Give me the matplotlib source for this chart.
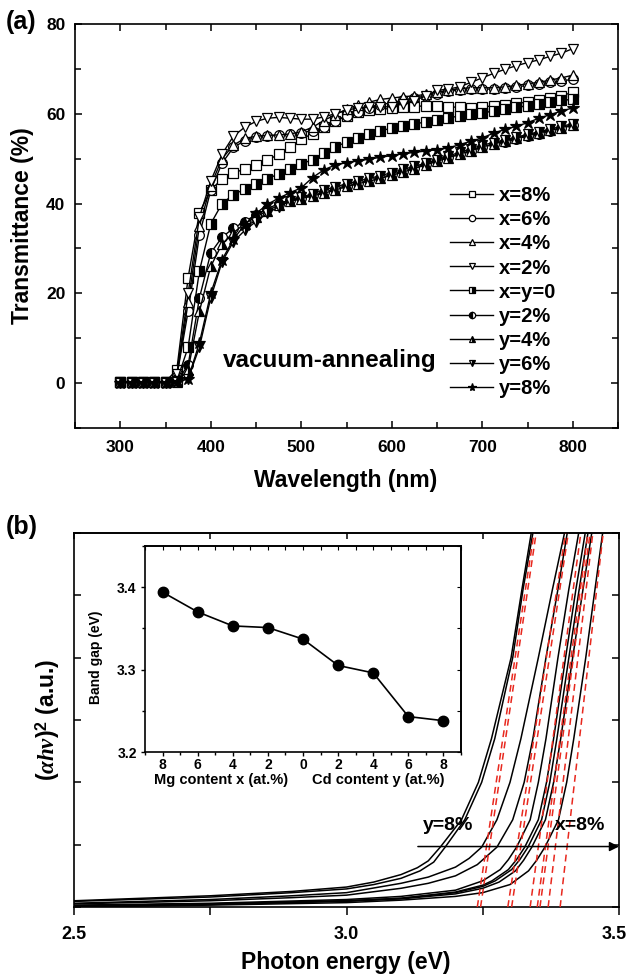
import matplotlib
matplotlib.use('Agg')
import matplotlib.pyplot as plt
from matplotlib.ticker import MultipleLocator, FixedLocator
from matplotlib.transforms import ScaledTranslation

plt.rcParams['font.family'] = ['Liberation Sans', 'DejaVu Sans']
plt.rcParams['font.weight'] = 'bold'
plt.rcParams['axes.labelweight'] = 'bold'
plt.rcParams['mathtext.fontset'] = 'custom'
plt.rcParams['mathtext.it'] = 'Liberation Serif:italic:bold'
plt.rcParams['mathtext.rm'] = 'Liberation Sans:bold'
plt.rcParams['mathtext.bf'] = 'Liberation Sans:bold'
plt.rcParams['axes.linewidth'] = 1.2

# ---------------- panel (a): transmittance spectra ----------------
wavelength = [300, 312.5, 325, 337.5, 350, 362.5, 375, 387.5, 400, 412.5, 425,
              437.5, 450, 462.5, 475, 487.5, 500, 512.5, 525, 537.5, 550, 562.5,
              575, 587.5, 600, 612.5, 625, 637.5, 650, 662.5, 675, 687.5, 700,
              712.5, 725, 737.5, 750, 762.5, 775, 787.5, 800]

t_x8 = [0.3, 0.3, 0.3, 0.3, 0.3, 3.0, 23.5, 38, 43, 45.5, 46.8, 47.7, 48.5, 49.6,
        51, 52.5, 54.3, 55.6, 57, 58.5, 59.5, 60.3, 60.8, 61, 61.2, 61.4, 61.6,
        61.8, 61.8, 61.6, 61.4, 61.3, 61.5, 61.8, 62, 62.3, 62.6, 63, 63.5, 64, 64.8]
t_x6 = [0.3, 0.3, 0.3, 0.3, 0.3, 1.5, 16, 33, 43, 49, 52.5, 54, 54.8, 55, 55.2,
        55.5, 55.8, 56.2, 57, 58.3, 59.5, 60.5, 61.2, 62, 62.5, 63, 63.5, 64,
        64.5, 65, 65.3, 65.5, 65.5, 65.5, 65.7, 66, 66.3, 66.7, 67, 67.3, 67.7]
t_x4 = [0.3, 0.3, 0.3, 0.3, 0.3, 1.5, 18, 35, 44, 50, 53, 54.5, 55, 55.2, 55.3,
        55.5, 56, 57, 58.5, 59.8, 61, 62, 62.6, 63.2, 63.5, 63.8, 64, 64.3, 64.8,
        65.2, 65.6, 65.8, 65.8, 65.8, 66, 66.3, 66.7, 67, 67.5, 68, 68.6]
t_x2 = [0.3, 0.3, 0.3, 0.3, 0.3, 2, 20, 37, 45, 51, 55, 57, 58.3, 59, 59.2, 59,
        58.8, 58.8, 59.3, 60, 60.8, 61.3, 61.6, 61.5, 61.6, 62.2, 62.9, 64, 65.2,
        65.5, 66, 67, 68, 69, 69.9, 70.7, 71.4, 72, 72.8, 73.5, 74.5]
t_xy0 = [0.2, 0.2, 0.2, 0.2, 0.2, 0.5, 8, 25, 35.5, 40, 42, 43.2, 44.3, 45.5,
         46.6, 47.8, 48.8, 49.8, 51.3, 52.6, 53.7, 54.7, 55.4, 56.2, 56.8, 57.2,
         57.7, 58.2, 58.7, 59.1, 59.5, 59.9, 60.2, 60.6, 61, 61.4, 61.8, 62.2,
         62.6, 63, 63.2]
t_y2 = [0.2, 0.2, 0.2, 0.2, 0.2, 0.3, 4, 19, 29, 32.5, 34.5, 36, 37.5, 38.8, 40,
        40.8, 41.3, 41.8, 42.5, 43.3, 44, 44.6, 45.2, 45.8, 46.5, 47.2, 48, 48.8,
        49.6, 50.3, 51, 51.8, 52.5, 53.2, 53.8, 54.4, 55, 55.6, 56.2, 56.8, 57.4]
t_y4 = [0.2, 0.2, 0.2, 0.2, 0.2, 0.3, 3, 16, 26, 31, 33.5, 35.5, 37, 38.4, 39.6,
        40.5, 41.1, 41.7, 42.3, 43, 43.8, 44.4, 45, 45.6, 46.3, 47, 47.8, 48.6,
        49.4, 50.2, 51, 51.8, 52.6, 53.3, 54, 54.6, 55.2, 55.8, 56.3, 56.9, 57.6]
t_y6 = [0.1, 0.1, 0.1, 0.1, 0.1, 0.2, 1, 8, 19, 27, 31.5, 34, 36, 37.8, 39.3,
        40.5, 41.4, 42.2, 43, 43.7, 44.4, 45, 45.6, 46.2, 46.9, 47.6, 48.3, 49,
        49.8, 50.6, 51.4, 52.2, 53, 53.6, 54.2, 54.8, 55.4, 56, 56.6, 57.2, 57.8]
t_y8 = [0.1, 0.1, 0.1, 0.1, 0.1, 0.2, 1, 9, 20, 27.5, 32, 35.3, 37.8, 39.8, 41.2,
        42.4, 43.5, 45.8, 47.5, 48.6, 49.1, 49.5, 49.9, 50.3, 50.7, 51.1, 51.4,
        51.7, 52, 52.4, 53.1, 53.9, 54.6, 55.7, 56.5, 57.2, 58, 59, 59.8, 60.6, 61.3]

labels_a = ['x=8%', 'x=6%', 'x=4%', 'x=2%', 'x=y=0', 'y=2%', 'y=4%', 'y=6%', 'y=8%']

# ---------------- panel (b): Tauc plot, (alpha h nu)^2 ----------------
e_y8 = [2.50, 2.75, 2.90, 3.00, 3.05, 3.10, 3.13, 3.15, 3.172, 3.211, 3.242, 3.266, 3.302, 3.322, 3.339, 3.344]
a_y8 = [0.10, 0.18, 0.25, 0.32, 0.40, 0.52, 0.63, 0.74, 0.96, 1.40, 2.00, 2.70, 4.00, 5.10, 6.00, 6.30]
e_y6 = [2.50, 2.75, 2.90, 3.00, 3.05, 3.10, 3.135, 3.16, 3.181, 3.217, 3.248, 3.272, 3.305, 3.324, 3.342, 3.347]
a_y6 = [0.09, 0.16, 0.23, 0.29, 0.36, 0.46, 0.58, 0.72, 0.96, 1.40, 2.00, 2.70, 4.00, 5.10, 6.00, 6.30]
e_y4 = [2.50, 2.75, 2.90, 3.00, 3.10, 3.15, 3.20, 3.225, 3.248, 3.276, 3.300, 3.320, 3.352, 3.378, 3.400, 3.406]
a_y4 = [0.06, 0.12, 0.18, 0.23, 0.38, 0.48, 0.64, 0.78, 0.96, 1.40, 2.00, 2.70, 4.00, 5.10, 6.00, 6.30]
e_y2 = [2.50, 2.75, 2.90, 3.00, 3.10, 3.15, 3.20, 3.24, 3.276, 3.305, 3.326, 3.342, 3.366, 3.388, 3.405, 3.411]
a_y2 = [0.05, 0.10, 0.15, 0.19, 0.30, 0.38, 0.50, 0.68, 0.96, 1.40, 2.00, 2.70, 4.00, 5.10, 6.00, 6.30]
e_xy0 = [2.50, 2.75, 3.00, 3.10, 3.20, 3.25, 3.282, 3.297, 3.312, 3.337, 3.352, 3.366, 3.388, 3.408, 3.426, 3.432]
a_xy0 = [0.03, 0.06, 0.12, 0.17, 0.27, 0.42, 0.60, 0.76, 0.96, 1.40, 2.00, 2.70, 4.00, 5.10, 6.00, 6.30]
e_x2 = [2.50, 2.75, 3.00, 3.10, 3.20, 3.25, 3.267, 3.297, 3.312, 3.327, 3.352, 3.367, 3.380, 3.402, 3.421, 3.438, 3.444]
a_x2 = [0.02, 0.05, 0.10, 0.14, 0.24, 0.35, 0.42, 0.60, 0.76, 0.96, 1.40, 2.00, 2.70, 4.00, 5.10, 6.00, 6.30]
e_x4 = [2.50, 2.75, 3.00, 3.10, 3.20, 3.25, 3.273, 3.303, 3.318, 3.333, 3.358, 3.373, 3.386, 3.408, 3.427, 3.443, 3.449]
a_x4 = [0.02, 0.05, 0.10, 0.14, 0.23, 0.33, 0.42, 0.60, 0.76, 0.96, 1.40, 2.00, 2.70, 4.00, 5.10, 6.00, 6.30]
e_x6 = [2.50, 2.75, 3.00, 3.10, 3.20, 3.25, 3.28, 3.31, 3.325, 3.340, 3.365, 3.380, 3.393, 3.415, 3.434, 3.450, 3.456]
a_x6 = [0.01, 0.04, 0.09, 0.13, 0.21, 0.30, 0.40, 0.58, 0.75, 0.96, 1.40, 2.00, 2.70, 4.00, 5.10, 6.00, 6.30]
e_x8 = [2.50, 2.75, 3.00, 3.10, 3.20, 3.25, 3.30, 3.334, 3.349, 3.364, 3.389, 3.404, 3.417, 3.439, 3.456, 3.470, 3.476]
a_x8 = [0.00, 0.03, 0.07, 0.11, 0.17, 0.23, 0.36, 0.58, 0.75, 0.96, 1.40, 2.00, 2.70, 4.00, 5.10, 6.00, 6.30]

# linear fits: energy where each dashed line meets the bottom and the top
fit_lo = [3.240, 3.246, 3.296, 3.303, 3.337, 3.350, 3.355, 3.370, 3.392]
fit_hi = [3.344, 3.348, 3.402, 3.407, 3.430, 3.443, 3.447, 3.452, 3.471]

# inset: band gap vs content
content_pos = [-8, -6, -4, -2, 0, 2, 4, 6, 8]
content_labels = ['8', '6', '4', '2', '0', '2', '4', '6', '8']
band_gap = [3.394, 3.370, 3.353, 3.351, 3.337, 3.305, 3.296, 3.243, 3.238]

W, H = 628, 977
fig = plt.figure(figsize=(W / 100, H / 100), dpi=100)


def box(l, t, r, b):
    return [l / W, 1 - b / H, (r - l) / W, (b - t) / H]


# ---- (a) ----
ax = fig.add_axes(box(75, 24, 618, 428))
series = [t_x8, t_x6, t_x4, t_x2, t_xy0, t_y2, t_y4, t_y6, t_y8]
markers = ['s', 'o', '^', 'v', 's', 'o', '^', 'v', '*']
fills = ['open', 'open', 'open', 'open', 'right', 'left', 'right', 'right', 'full']
for vals, m, f, lab in zip(series, markers, fills, labels_a):
    kw = dict(color='black', lw=1.0, marker=m, mec='black', mew=0.9,
              ms=9 if m == '*' else 7, label=lab)
    if f == 'open':
        kw.update(mfc='white')
    elif f == 'full':
        kw.update(mfc='black')
    else:
        kw.update(mfc='black', mfcalt='white', fillstyle=f)
    ax.plot(wavelength, vals, **kw)

ax.set_xlim(250, 850)
ax.set_ylim(-10, 80)
ax.xaxis.set_major_locator(MultipleLocator(100))
ax.xaxis.set_minor_locator(MultipleLocator(50))
ax.yaxis.set_major_locator(MultipleLocator(20))
ax.yaxis.set_minor_locator(MultipleLocator(10))
ax.tick_params(which='both', direction='in', top=True, right=True, width=1.1)
ax.tick_params(which='major', length=5, labelsize=12.5)
ax.tick_params(which='minor', length=4)
ax.tick_params(axis='x', pad=9)
ax.tick_params(axis='y', pad=7)

ax.text(413, 5, 'vacuum-annealing', fontsize=17.5, ha='left', va='center')
ax.legend(loc='upper left', bbox_to_anchor=(0.6906, 0.598), frameon=False,
          fontsize=14.5, handlelength=2.14, handletextpad=0.3, labelspacing=0.25,
          borderpad=0, borderaxespad=0, markerscale=0.65)

fig.text(23 / W, 1 - 226 / H, 'Transmittance (%)', rotation=90, ha='center',
         va='center', fontsize=16.5)
fig.text(346 / W, 1 - 480 / H, 'Wavelength (nm)', ha='center', va='center',
         fontsize=16.5)
fig.text(6 / W, 1 - 22 / H, '(a)', ha='left', va='center', fontsize=18)

# ---- (b) ----
bx = fig.add_axes(box(74, 533, 619, 907))
curves = [(e_y8, a_y8), (e_y6, a_y6), (e_y4, a_y4), (e_y2, a_y2), (e_xy0, a_xy0),
          (e_x2, a_x2), (e_x4, a_x4), (e_x6, a_x6), (e_x8, a_x8)]
for e, a in curves:
    bx.plot(e, a, color='black', lw=1.1, solid_joinstyle='round')
for lo, hi in zip(fit_lo, fit_hi):
    bx.plot([lo, hi], [0, 6], color='#e8281e', lw=1.1, dashes=(4.5, 3), zorder=3)

bx.annotate('', xy=(3.5, 0.97), xytext=(3.131, 0.97), annotation_clip=False,
            arrowprops=dict(arrowstyle='-|>', color='black', lw=1.1,
                            mutation_scale=14, shrinkA=0, shrinkB=0))
bx.text(3.14, 1.30, 'y=8%', fontsize=14, ha='left', va='center')
bx.text(3.383, 1.30, 'x=8%', fontsize=14, ha='left', va='center')

bx.set_xlim(2.5, 3.5)
bx.set_ylim(0, 6)
bx.set_xticks([2.5, 3.0, 3.5])
bx.set_xticklabels(['2.5', '3.0', '3.5'])
bx.xaxis.set_minor_locator(MultipleLocator(0.25))
bx.yaxis.set_major_locator(MultipleLocator(1))
bx.tick_params(axis='x', which='both', direction='out', length=6, width=1.1,
               labelsize=13, pad=8)
bx.tick_params(axis='y', which='both', direction='in', left=True, right=True,
               labelleft=False, length=5, width=1.1)
last = bx.get_xticklabels()[-1]
last.set_transform(last.get_transform() + ScaledTranslation(-0.05, 0, fig.dpi_scale_trans))
top = bx.secondary_xaxis('top')
top.xaxis.set_major_locator(MultipleLocator(0.25))
top.tick_params(direction='in', length=4, width=1.1, labeltop=False)

fig.text(346 / W, 1 - 962 / H, 'Photon energy (eV)', ha='center', va='center',
         fontsize=16.5)
fig.text(48 / W, 1 - 720 / H, r'$(\alpha h\nu)^{2}$ (a.u.)', rotation=90,
         ha='center', va='center', fontsize=16.5)
fig.text(6 / W, 1 - 527 / H, '(b)', ha='left', va='center', fontsize=18)

# ---- inset ----
ix = fig.add_axes(box(145, 546, 461, 752))
ix.plot(content_pos, band_gap, color='black', lw=1.2, marker='o', ms=7.5)
ix.set_xlim(-9, 9)
ix.set_ylim(3.2, 3.45)
ix.xaxis.set_major_locator(FixedLocator(content_pos))
ix.set_xticklabels(content_labels)
ix.xaxis.set_minor_locator(MultipleLocator(1))
ix.set_yticks([3.2, 3.3, 3.4])
ix.yaxis.set_minor_locator(MultipleLocator(0.05))
ix.tick_params(which='both', direction='out', width=1.0, labelsize=10)
ix.tick_params(which='major', length=3, pad=1)
ix.tick_params(which='minor', length=2.5)
ix.tick_params(axis='y', pad=3)
itop = ix.secondary_xaxis('top')
itop.xaxis.set_major_locator(MultipleLocator(1))
itop.tick_params(direction='in', length=3, labeltop=False)
iright = ix.secondary_yaxis('right')
iright.yaxis.set_major_locator(MultipleLocator(0.05))
iright.tick_params(direction='in', length=3, labelright=False)
ix.set_ylabel('Band gap (eV)', fontsize=10, fontweight='bold')
ix.yaxis.set_label_coords(-0.133, 0.46)
ix.text(0.24, -0.138, 'Mg content x (at.%)', transform=ix.transAxes,
        ha='center', va='center', fontsize=10.5)
ix.text(0.739, -0.138, 'Cd content y (at.%)', transform=ix.transAxes,
        ha='center', va='center', fontsize=10.5)

fig.savefig('out.png', dpi=100)
